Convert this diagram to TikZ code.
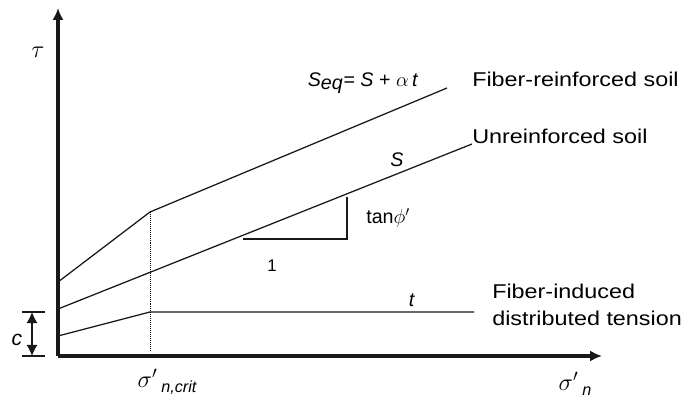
\documentclass[tikz,border=0pt]{standalone}
\usepackage{fontspec}
\setmainfont{Liberation Sans}
\newfontfamily\lblfont[FakeStretch=1.17]{Liberation Sans}
\usetikzlibrary{arrows.meta}

\newcommand{\stresssub}[1]{\raisebox{-4pt}{\fontsize{11.5}{12}\selectfont\itshape #1}}

\tikzset{
    axis/.style={line width=2.3pt, black!90, -{Latex[length=0.3cm,width=0.28cm]}},
    envelope/.style={line width=0.9pt, black!90},
    curvelabel/.style={font=\lblfont\fontsize{14.2}{19.5}\selectfont, inner sep=0pt, anchor=west, align=left},
    mathlabel/.style={font=\fontsize{14}{16}\selectfont, inner sep=0pt}
}

\begin{document}
\begin{tikzpicture}

\useasboundingbox (0,0) rectangle (17.475,10);

% --- AXES ---
\coordinate (O) at (1.45,1.1);
\draw[axis] (O) -- (1.45,9.8);
\draw[axis] (O) -- (15.05,1.1);

% --- ENVELOPES ---
% fiber-induced tension t
\coordinate (t0) at (1.45,1.6);
\coordinate (t1) at (3.75,2.2);
\coordinate (t2) at (11.85,2.2);
\draw[envelope] (t0) -- (t1) -- (t2);

% unreinforced soil S
\coordinate (s0) at (1.45,2.275);
\coordinate (s1) at (11.8,6.4);
\draw[envelope] (s0) -- (s1);

% fiber-reinforced soil S_eq
\coordinate (e0) at (1.45,2.95);
\coordinate (e1) at (3.75,4.7);
\coordinate (e2) at (11.175,7.8);
\draw[envelope] (e0) -- (e1) -- (e2);

% critical normal stress
\draw[thin, densely dotted] (e1) -- (3.75,1.25);

% slope triangle
\draw[envelope] (6.075,4.025) -- (8.675,4.025) -- (8.675,5.075);

% cohesion c
\draw[envelope] (0.55,2.2) -- (1.125,2.2);
\draw[envelope] (0.55,1.1) -- (1.125,1.1);
\draw[envelope, {Latex[length=0.28cm,width=0.28cm]}-{Latex[length=0.28cm,width=0.28cm]}] (0.8,2.2) -- (0.8,1.1);

% --- LABELS ---
\node[mathlabel, font=\fontsize{17}{20}\selectfont] (tau) at (0.95,8.7) {$\tau$};
\node[mathlabel, font=\fontsize{15}{18}\selectfont] (c) at (0.425,1.5) {\textit{c}};
\node[mathlabel, font=\fontsize{17}{20}\selectfont] (sigcrit) at (4.175,0.45) {$\sigma'$\,\stresssub{n,crit}};
\node[mathlabel, font=\fontsize{17}{20}\selectfont] (sign) at (14.375,0.4) {$\sigma'$\,\stresssub{n}};
\node[mathlabel] (seq) at (9.075,7.925) {\textit{S}$_{\textit{eq}}$= \textit{S} + $\alpha$\,\textit{t}};
\node[mathlabel] (S) at (9.925,6.0) {\textit{S}};
\node[mathlabel] (t) at (10.3,2.5) {\textit{t}};
\node[mathlabel, font=\fontsize{14}{16}\selectfont, anchor=west] (tanphi) at (9.15,4.55) {tan$\phi'$};
\node[mathlabel, font=\fontsize{12}{14}\selectfont] (one) at (6.8,3.35) {1};

\node[curvelabel] (fiber) at (11.8,8.025) {Fiber-reinforced soil};
\node[curvelabel] (unrein) at (11.8,6.6) {Unreinforced soil};
\node[curvelabel] (tension) at (12.3,2.375) {Fiber-induced\\distributed tension};

\end{tikzpicture}
\end{document}
